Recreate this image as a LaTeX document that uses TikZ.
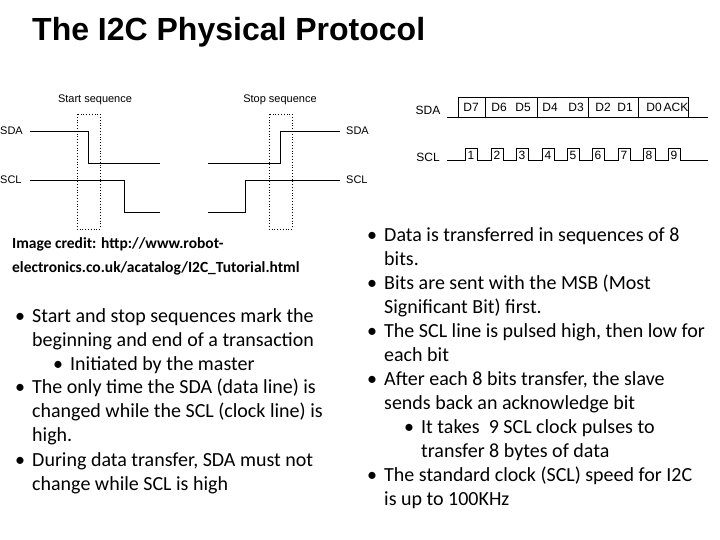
\documentclass[tikz,border=0pt]{standalone}
\usepackage{fontspec}
\setmainfont{Carlito}
\newfontfamily\arialf{Liberation Sans}
\newcommand\mylines[1]{\vtop{\baselineskip=24pt\lineskiplimit=-20pt #1}}
\begin{document}
\begin{tikzpicture}[x=1pt,y=-1pt,
  sig/.style={line width=0.8pt},
  box/.style={dotted,line width=0.8pt},
  lab/.style={font=\arialf\fontsize{11}{12}\selectfont,inner sep=0pt},
  bl/.style={anchor=base west,inner sep=0pt,font=\fontsize{20}{24}\selectfont},
  bul/.style={anchor=base west,inner sep=0pt,font=\fontsize{20}{24}\selectfont}]
\useasboundingbox (0,0) rectangle (720,540);
\node[anchor=base west,inner sep=0pt,font=\arialf\bfseries\fontsize{32}{36}\selectfont] (title) at (32,41) {The I2C Physical Protocol};
% left timing diagram
\node[lab] (st) at (95,100) {Start sequence};
\node[lab] (sp) at (280,100) {Stop sequence};
\draw[box] (77,114) rectangle (100,229);
\draw[box] (269,114) rectangle (292,229);
\node[lab,anchor=west] (sdal) at (0,131) {SDA};
\node[lab,anchor=west] (scll) at (0,180) {SCL};
\node[lab,anchor=west] (sdar) at (346,131) {SDA};
\node[lab,anchor=west] (sclr) at (346,180) {SCL};
\draw[sig] (30,131) -- (88,131) -- (88,163) -- (160,163);
\draw[sig] (30,180) -- (124,180) -- (124,212) -- (160,212);
\draw[sig] (208,163) -- (280,163) -- (280,131) -- (340,131);
\draw[sig] (208,212) -- (245,212) -- (245,180) -- (340,180);
% right timing diagram
\node[lab,font=\arialf\fontsize{12}{13}\selectfont] (sda2) at (428,110) {SDA};
\node[lab,font=\arialf\fontsize{12}{13}\selectfont] (scl2) at (428,157) {SCL};
\draw[sig] (458,97) -- (688,97);
\draw[sig] (447,117) -- (708,117);
\foreach \x in {458,485,537,588,638,688} \draw[sig] (\x,97) -- (\x,117);
\foreach \t/\x in {D7/471,D6/499,D5/523,D4/550,D3/576,D2/603,D1/625,D0/654,ACK/676}
  \node[lab,font=\arialf\fontsize{12}{13}\selectfont] at (\x,107) {\t};
\draw[sig] (447,160) foreach[count=\i] \x in {465,491,516,542,567,592,618,643,668} {
  -- (\x,160) -- (\x,148) -- (\x+12,148) -- (\x+12,160) } -- (708,160);
\foreach[count=\i] \x in {465,491,516,542,567,592,618,643,668}
  \node[lab,font=\arialf\fontsize{12}{13}\selectfont] at (\x+6,155) {\i};
% left text
\node[anchor=base west,inner sep=0pt,font=\bfseries\fontsize{15.5}{24}\selectfont] (credit) at (12,248) {\mylines{\hbox{Image credit: http://www.robot-}\hbox{electronics.co.uk/acatalog/I2C\_Tutorial.html}}};
\node[bul] (b1) at (15,322) {•};
\node[bl] (t1) at (32,322) {\mylines{\hbox{Start and stop sequences mark the}\hbox{beginning and end of a transaction}}};
\node[bul] (b1a) at (53,370) {•};
\node[bl] (t1a) at (70,370) {Initiated by the master};
\node[bul] (b2) at (15,393) {•};
\node[bl] (t2) at (32,393) {\mylines{\hbox{The only time the SDA (data line) is}\hbox{changed while the SCL (clock line) is}\hbox{high.}}};
\node[bul] (b3) at (15,466) {•};
\node[bl] (t3) at (32,466) {\mylines{\hbox{During data transfer, SDA must not}\hbox{change while SCL is high}}};
% right text
\node[bul] (r1) at (367,241) {•};
\node[bl] (rt1) at (384,241) {\mylines{\hbox{Data is transferred in sequences of 8}\hbox{bits.}}};
\node[bul] (r2) at (367,289) {•};
\node[bl] (rt2) at (384,289) {\mylines{\hbox{Bits are sent with the MSB (Most}\hbox{Significant Bit) first.}}};
\node[bul] (r3) at (367,337) {•};
\node[bl] (rt3) at (384,337) {\mylines{\hbox{The SCL line is pulsed high, then low for}\hbox{each bit}}};
\node[bul] (r4) at (367,385) {•};
\node[bl] (rt4) at (384,385) {\mylines{\hbox{After each 8 bits transfer, the slave}\hbox{sends back an acknowledge bit}}};
\node[bul] (r4a) at (404,433) {•};
\node[bl] (rt4a) at (421,433) {\mylines{\hbox{It takes \ 9 SCL clock pulses to}\hbox{transfer 8 bytes of data}}};
\node[bul] (r5) at (367,481) {•};
\node[bl] (rt5) at (384,481) {\mylines{\hbox{The standard clock (SCL) speed for I2C}\hbox{is up to 100KHz}}};
\end{tikzpicture}
\end{document}
